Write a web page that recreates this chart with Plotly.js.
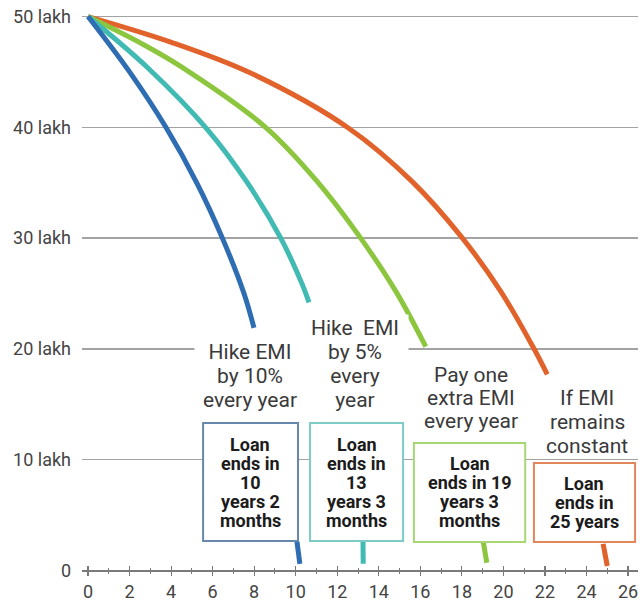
<!DOCTYPE html>
<html>
<head>
<meta charset="utf-8">
<script src="https://cdn.plot.ly/plotly-3.0.1.min.js"></script>
<style>html,body{margin:0;padding:0;background:#fff;}#chart{width:644px;height:606px;}</style>
</head>
<body>
<div id="chart"></div>
<script>
// ---- data (years, outstanding loan in lakh) ----
const blueX   = [0, 2.0, 3.75, 5.26, 6.47, 7.51, 7.99, 9.0, 10.06, 10.2];
const blueY   = [50, 45, 40, 34.9, 30, 25, 21.9, null, 2.6, 0.6];
const tealX   = [0, 2.86, 5.75, 7.67, 9.28, 10.32, 10.64, 12.0, 13.24, 13.25];
const tealY   = [50, 45.4, 39.8, 35.0, 30.0, 25.8, 24.2, null, 2.6, 0.6];
const greenX  = [0, 2.54, 4.46, 8.55, 11.04, 13.05, 14.85, 16.26, 17.5, 19.02, 19.2];
const greenY  = [50, 47.6, 45.5, 40.0, 35.1, 30.2, 25.1, 20.2, null, 2.7, 0.7];
const orangeX = [0, 3.98, 7.83, 12.57, 15.61, 17.94, 19.87, 21.39, 22.11, 23.5, 24.8, 25.0];
const orangeY = [50, 47.7, 44.9, 39.9, 35.1, 30.2, 25.2, 20.3, 17.7, null, 2.4, 0.4];

const yTickVals = [0, 10, 20, 30, 40, 50];
const yTickText = ['0', '10 lakh', '20 lakh', '30 lakh', '40 lakh', '50 lakh'];

const blueLabel   = ['Hike EMI', 'by 10%', 'every year'];
const tealLabel   = ['Hike  EMI', 'by 5%', 'every', 'year'];
const greenLabel  = ['Pay one', 'extra EMI', 'every year'];
const orangeLabel = ['If EMI', 'remains', 'constant'];

const blueBox   = ['Loan', 'ends in', '10', 'years 2', 'months'];
const tealBox   = ['Loan', 'ends in', '13', 'years 3', 'months'];
const greenBox  = ['Loan', 'ends in 19', 'years 3', 'months'];
const orangeBox = ['Loan', 'ends in', '25 years'];

// ---- styles ----
const C = {blue:'#2f6db3', teal:'#40bab2', green:'#8cc63e', orange:'#e1622a'};
const BORDER = {blue:'#6689ab', teal:'#7ccbc5', green:'#a8d672', orange:'#e2875c'};

function curve(x, y, color){
  return {x:x, y:y, type:'scatter', mode:'lines', connectgaps:false,
          line:{color:color, width:5, shape:'spline', smoothing:1},
          hoverinfo:'skip', showlegend:false};
}
const traces = [
  curve(orangeX, orangeY, C.orange),
  curve(greenX, greenY, C.green),
  curve(tealX, tealY, C.teal),
  curve(blueX, blueY, C.blue),
  {x:[null], y:[null], xaxis:'x2', type:'scatter', mode:'lines', hoverinfo:'skip', showlegend:false}
];

const annotations = [];
function block(lines, xc, yFirst, step, font, bg, w){
  lines.forEach((t, i) => {
    const a = {text:t, x:xc, y:yFirst - i*step, xref:'x', yref:'y',
      showarrow:false, xanchor:'center', yanchor:'middle', font:font};
    if (bg) { a.bgcolor = bg; }
    if (w) { a.width = w; }
    annotations.push(a);
  });
}
const labelFont = {family:'Roboto, sans-serif', size:21, color:'#3a3a3a'};
const boxFont = {family:'Roboto, sans-serif', size:18, color:'#1c1c1c', weight:700};

block(blueLabel, 7.80, 19.72, 2.166, labelFont, '#ffffff', 108);
block(tealLabel, 12.86, 21.89, 2.166, labelFont, '#ffffff', 104);
block(greenLabel, 18.44, 17.65, 2.1, labelFont, null, null);
block(orangeLabel, 24.03, 15.57, 2.166, labelFont, null, null);

block(blueBox, 7.82, 11.35, 1.715, boxFont, null, null);
block(tealBox, 12.93, 11.35, 1.715, boxFont, null, null);
block(greenBox, 18.37, 9.63, 1.715, boxFont, null, null);
block(orangeBox, 23.90, 7.83, 1.715, boxFont, null, null);

function box(x0, x1, y0, y1, color){
  return {type:'rect', xref:'x', yref:'y', x0:x0, x1:x1, y0:y0, y1:y1,
          fillcolor:'#ffffff', line:{color:color, width:2}, layer:'above'};
}
const shapes = [
  box(5.54, 10.11, 2.66, 13.31, BORDER.blue),
  box(10.69, 15.17, 2.66, 13.31, BORDER.teal),
  box(15.69, 21.05, 2.57, 11.51, BORDER.green),
  box(21.47, 26.34, 2.57, 9.70, BORDER.orange)
];

const xRange = [-0.29, 26.48];
const yRange = [-0.5, 50.5];
const axisPos = (0 - yRange[0]) / (yRange[1] - yRange[0]);
const tickFont = {family:'Roboto, sans-serif', size:18, color:'#444'};

const layout = {
  width:644, height:606,
  margin:{l:82, r:6, t:11, b:30},
  paper_bgcolor:'#ffffff', plot_bgcolor:'#ffffff',
  font:{family:'Roboto, sans-serif'},
  showlegend:false,
  xaxis:{range:xRange, anchor:'free', position:axisPos,
    showline:true, linecolor:'#7a7a7a', linewidth:1.5,
    tickmode:'linear', tick0:0, dtick:2,
    ticks:'outside', ticklen:4, tickwidth:1.2, tickcolor:'#7a7a7a',
    minor:{tick0:0, dtick:1, ticks:'outside', ticklen:2, tickcolor:'#7a7a7a', tickwidth:1, showgrid:false},
    showgrid:false, zeroline:false, tickfont:tickFont, fixedrange:true},
  xaxis2:{range:xRange, overlaying:'x', anchor:'free', position:axisPos,
    showline:false, tickmode:'linear', tick0:0, dtick:2,
    ticks:'inside', ticklen:4, tickwidth:1.2, tickcolor:'#7a7a7a',
    minor:{tick0:0, dtick:1, ticks:'inside', ticklen:2, tickcolor:'#7a7a7a', tickwidth:1, showgrid:false},
    showticklabels:false, showgrid:false, zeroline:false},
  yaxis:{range:yRange, tickmode:'array', tickvals:yTickVals, ticktext:yTickText,
    showgrid:true, gridcolor:'#a3a3a3', gridwidth:1.5,
    zeroline:false, showline:false, ticks:'', ticklabelstandoff:10,
    tickfont:tickFont, fixedrange:true},
  annotations:annotations,
  shapes:shapes
};

Plotly.newPlot('chart', traces, layout, {staticPlot:true, displayModeBar:false});
</script>
</body>
</html>
